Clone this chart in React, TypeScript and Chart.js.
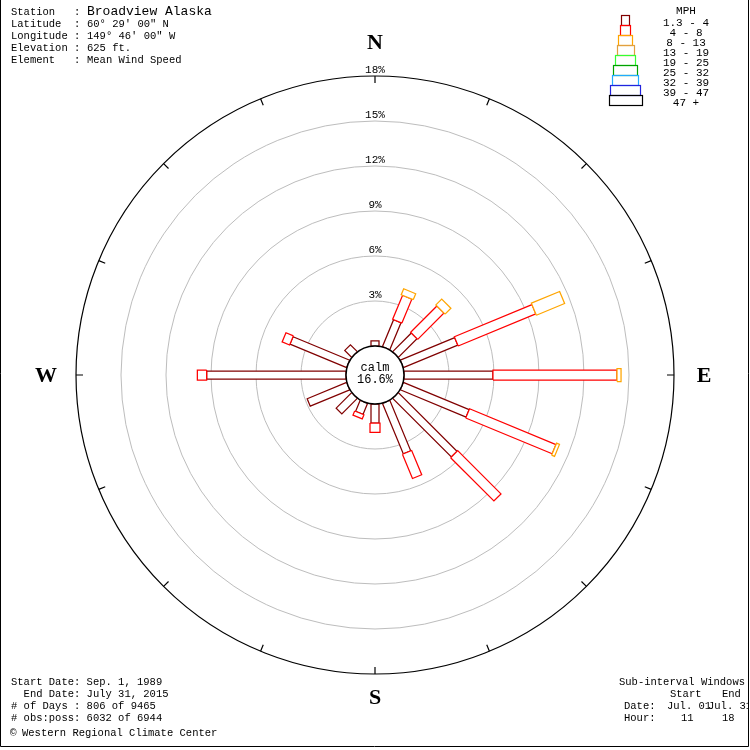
import React, { useEffect, useRef } from 'react';
import { Chart, registerables } from 'chart.js';
Chart.register(...registerables);

// ---- data ----
const directions = ['N', 'NNE', 'NE', 'ENE', 'E', 'ESE', 'SE', 'SSE', 'S', 'SSW', 'SW', 'WSW', 'W', 'WNW', 'NW', 'NNW'];
const speedClasses = ['1.3 - 4', '4 - 8', '8 - 13', '13 - 19', '19 - 25', '25 - 32', '32 - 39', '39 - 47', '47 +'];
// percent frequency per direction for each speed class (classes above 13 mph are empty)
const speed1to4 = [0.35, 1.95, 1.76, 3.93, 5.93, 4.75, 5.53, 3.65, 1.27, 0.8, 1.46, 2.85, 9.29, 4.09, 0.65, 0];
const speed4to8 = [0, 1.73, 2.48, 5.6, 8.27, 6.24, 4.08, 1.75, 0.62, 0.3, 0, 0, 0.62, 0.54, 0, 0];
const speed8to13 = [0, 0.43, 0.55, 2.04, 0.27, 0.21, 0, 0, 0, 0, 0, 0, 0, 0, 0, 0];
const calmPercent = 16.6;
const ringTicks = [3, 6, 9, 12, 15, 18];

const headerLabels = ['Station   : ', 'Latitude  : ', 'Longitude : ', 'Elevation : ', 'Element   : '];
const headerValues = ['Broadview Alaska', '60\u00b0 29\' 00" N', '149\u00b0 46\' 00" W', '625 ft.', 'Mean Wind Speed'];
const footerLines = ['Start Date: Sep. 1, 1989', '  End Date: July 31, 2015', '# of Days : 806 of 9465', '# obs:poss: 6032 of 6944'];

// ---- styles ----
const classColors = ['#800000', '#ff0000', '#ffa500', '#e0a040', '#33ff33', '#00a000', '#22aaff', '#2222dd', '#000000'];
const classWidthsPx = [8, 10, 13, 16, 20, 24, 26, 30, 33];
const legendWidthsPx = [8, 10, 14, 17, 20, 24, 26, 30, 33];
const PX_PER_UNIT = 15;
const CALM_R = 29 / PX_PER_UNIT; // calm circle radius in scale units
const HALF_RANGE = 350 / PX_PER_UNIT;
const MONO = '"Liberation Mono", "DejaVu Sans Mono", monospace';

function buildDatasets() {
  const series = [speed1to4, speed4to8, speed8to13];
  const out: any[] = [];
  directions.forEach((d, i) => {
    const th = (i * 22.5 * Math.PI) / 180;
    const ux = Math.sin(th), uy = Math.cos(th);
    const px = Math.cos(th), py = -Math.sin(th);
    let r0 = CALM_R;
    series.forEach((vals, k) => {
      const v = vals[i];
      if (!v) return;
      const r1 = r0 + v;
      const w = classWidthsPx[k] / 2 / PX_PER_UNIT;
      const pts = [
        { x: r0 * ux + w * px, y: r0 * uy + w * py },
        { x: r1 * ux + w * px, y: r1 * uy + w * py },
        { x: r1 * ux - w * px, y: r1 * uy - w * py },
        { x: r0 * ux - w * px, y: r0 * uy - w * py },
        { x: r0 * ux + w * px, y: r0 * uy + w * py },
      ];
      out.push({
        label: `${d} ${speedClasses[k]}`,
        data: pts,
        showLine: true,
        borderColor: classColors[k],
        backgroundColor: '#ffffff',
        fill: 'shape',
        borderWidth: 1.25,
        pointRadius: 0,
        tension: 0,
      });
      r0 = r1;
    });
  });
  return out.reverse(); // index 0 is drawn last in Chart.js
}

const roseDecor = {
  id: 'roseDecor',
  beforeDraw(chart: any) {
    const ctx = chart.ctx;
    ctx.save();
    ctx.fillStyle = '#ffffff';
    ctx.fillRect(0, 0, chart.width, chart.height);
    ctx.restore();
  },
  beforeDatasetsDraw(chart: any) {
    const { ctx } = chart;
    const xs = chart.scales.x, ys = chart.scales.y;
    const cx = xs.getPixelForValue(0), cy = ys.getPixelForValue(0);
    const rPx = (v: number) => xs.getPixelForValue(v) - cx;
    ctx.save();
    ctx.lineWidth = 1;
    ctx.strokeStyle = '#bdbdbd';
    ringTicks.slice(0, -1).forEach((p) => {
      ctx.beginPath();
      ctx.arc(cx, cy, rPx(CALM_R + p), 0, Math.PI * 2);
      ctx.stroke();
    });
    const R = rPx(CALM_R + ringTicks[ringTicks.length - 1]);
    ctx.strokeStyle = '#000';
    ctx.lineWidth = 1.2;
    ctx.beginPath();
    ctx.arc(cx, cy, R, 0, Math.PI * 2);
    ctx.stroke();
    ctx.beginPath();
    directions.forEach((_d, i) => {
      const th = (i * 22.5 * Math.PI) / 180;
      const s = Math.sin(th), c = Math.cos(th);
      ctx.moveTo(cx + R * s, cy - R * c);
      ctx.lineTo(cx + (R - 7) * s, cy - (R - 7) * c);
    });
    ctx.stroke();
    ctx.fillStyle = '#000';
    ctx.font = `11px ${MONO}`;
    ctx.textAlign = 'center';
    ctx.textBaseline = 'middle';
    ringTicks.forEach((p) => ctx.fillText(p + '%', cx, cy - rPx(CALM_R + p) - 6));
    ctx.restore();
  },
  afterDatasetsDraw(chart: any) {
    const { ctx } = chart;
    const xs = chart.scales.x, ys = chart.scales.y;
    const cx = xs.getPixelForValue(0), cy = ys.getPixelForValue(0);
    const rPx = (v: number) => xs.getPixelForValue(v) - cx;
    const R = rPx(CALM_R + ringTicks[ringTicks.length - 1]);
    ctx.save();
    // calm circle
    ctx.fillStyle = '#fff';
    ctx.strokeStyle = '#000';
    ctx.lineWidth = 1.5;
    ctx.beginPath();
    ctx.arc(cx, cy, rPx(CALM_R), 0, Math.PI * 2);
    ctx.fill();
    ctx.stroke();
    ctx.fillStyle = '#000';
    ctx.textAlign = 'center';
    ctx.textBaseline = 'middle';
    ctx.font = `12px ${MONO}`;
    ctx.fillText('calm', cx, cy - 7);
    ctx.fillText(calmPercent.toFixed(1) + '%', cx, cy + 5);
    // compass letters
    ctx.font = 'bold 22px "Liberation Serif", serif';
    ctx.fillText('N', cx, cy - R - 33);
    ctx.fillText('S', cx, cy + R + 24);
    ctx.fillText('W', cx - R - 30, cy + 1);
    ctx.fillText('E', cx + R + 30, cy + 1);
    // header
    ctx.textAlign = 'left';
    headerLabels.forEach((lab, i) => {
      const yy = 12 + i * 12;
      ctx.font = `10.5px ${MONO}`;
      ctx.fillText(lab, 11, yy);
      ctx.font = i === 0 ? `13px ${MONO}` : `10.5px ${MONO}`;
      ctx.fillText(headerValues[i], 87, yy);
    });
    // footer left
    ctx.font = `10.5px ${MONO}`;
    footerLines.forEach((t, i) => ctx.fillText(t, 11, 682 + i * 12));
    ctx.font = `11px ${MONO}`;
    ctx.fillText('\u00a9', 10, 733);
    ctx.font = `10.5px ${MONO}`;
    ctx.fillText('Western Regional Climate Center', 22, 733);
    // footer right
    ctx.fillText('Sub-interval Windows', 619, 682);
    ctx.fillText('Start', 670, 694);
    ctx.fillText('End', 722, 694);
    ctx.fillText('Date:', 624, 706);
    ctx.fillText('Jul. 01', 667, 706);
    ctx.fillText('Jul. 31', 708, 706);
    ctx.fillText('Hour:', 624, 718);
    ctx.fillText('11', 681, 718);
    ctx.fillText('18', 722, 718);
    // legend
    ctx.textAlign = 'center';
    ctx.font = `11px ${MONO}`;
    ctx.fillText('MPH', 686, 11);
    ctx.lineWidth = 1.2;
    speedClasses.forEach((lab, k) => {
      const w = legendWidthsPx[k];
      const top = 15 + k * 10;
      ctx.strokeStyle = classColors[k];
      ctx.strokeRect(Math.round(625 - w / 2) + 0.5, top + 0.5, w, 10);
      ctx.fillStyle = '#000';
      ctx.fillText(lab, 686, top + 8);
    });
    // frame
    ctx.fillStyle = '#fff';
    ctx.fillRect(749, 0, 1, 750);
    ctx.fillRect(0, 747, 750, 3);
    ctx.strokeStyle = '#000';
    ctx.lineWidth = 1;
    ctx.beginPath();
    ctx.moveTo(0.5, 0);
    ctx.lineTo(0.5, 746.5);
    ctx.lineTo(748.5, 746.5);
    ctx.lineTo(748.5, 0);
    ctx.stroke();
    ctx.restore();
  },
};

export default function App() {
  const ref = useRef<HTMLCanvasElement | null>(null);
  useEffect(() => {
    if (!ref.current) return;
    const chart = new Chart(ref.current, {
      type: 'line',
      data: { datasets: buildDatasets() },
      options: {
        responsive: false,
        animation: false,
        events: [],
        layout: { padding: { left: 25, right: 25, top: 25, bottom: 25 } },
        plugins: { legend: { display: false }, tooltip: { enabled: false } },
        scales: {
          x: { type: 'linear', min: -HALF_RANGE, max: HALF_RANGE, display: false },
          y: { type: 'linear', min: -HALF_RANGE, max: HALF_RANGE, display: false },
        },
      },
      plugins: [roseDecor],
    } as any);
    return () => chart.destroy();
  }, []);
  return (
    <div style={{ position: 'absolute', left: 0, top: 0, width: 750, height: 750, background: '#fff' }}>
      <canvas ref={ref} width={750} height={750} />
    </div>
  );
}
